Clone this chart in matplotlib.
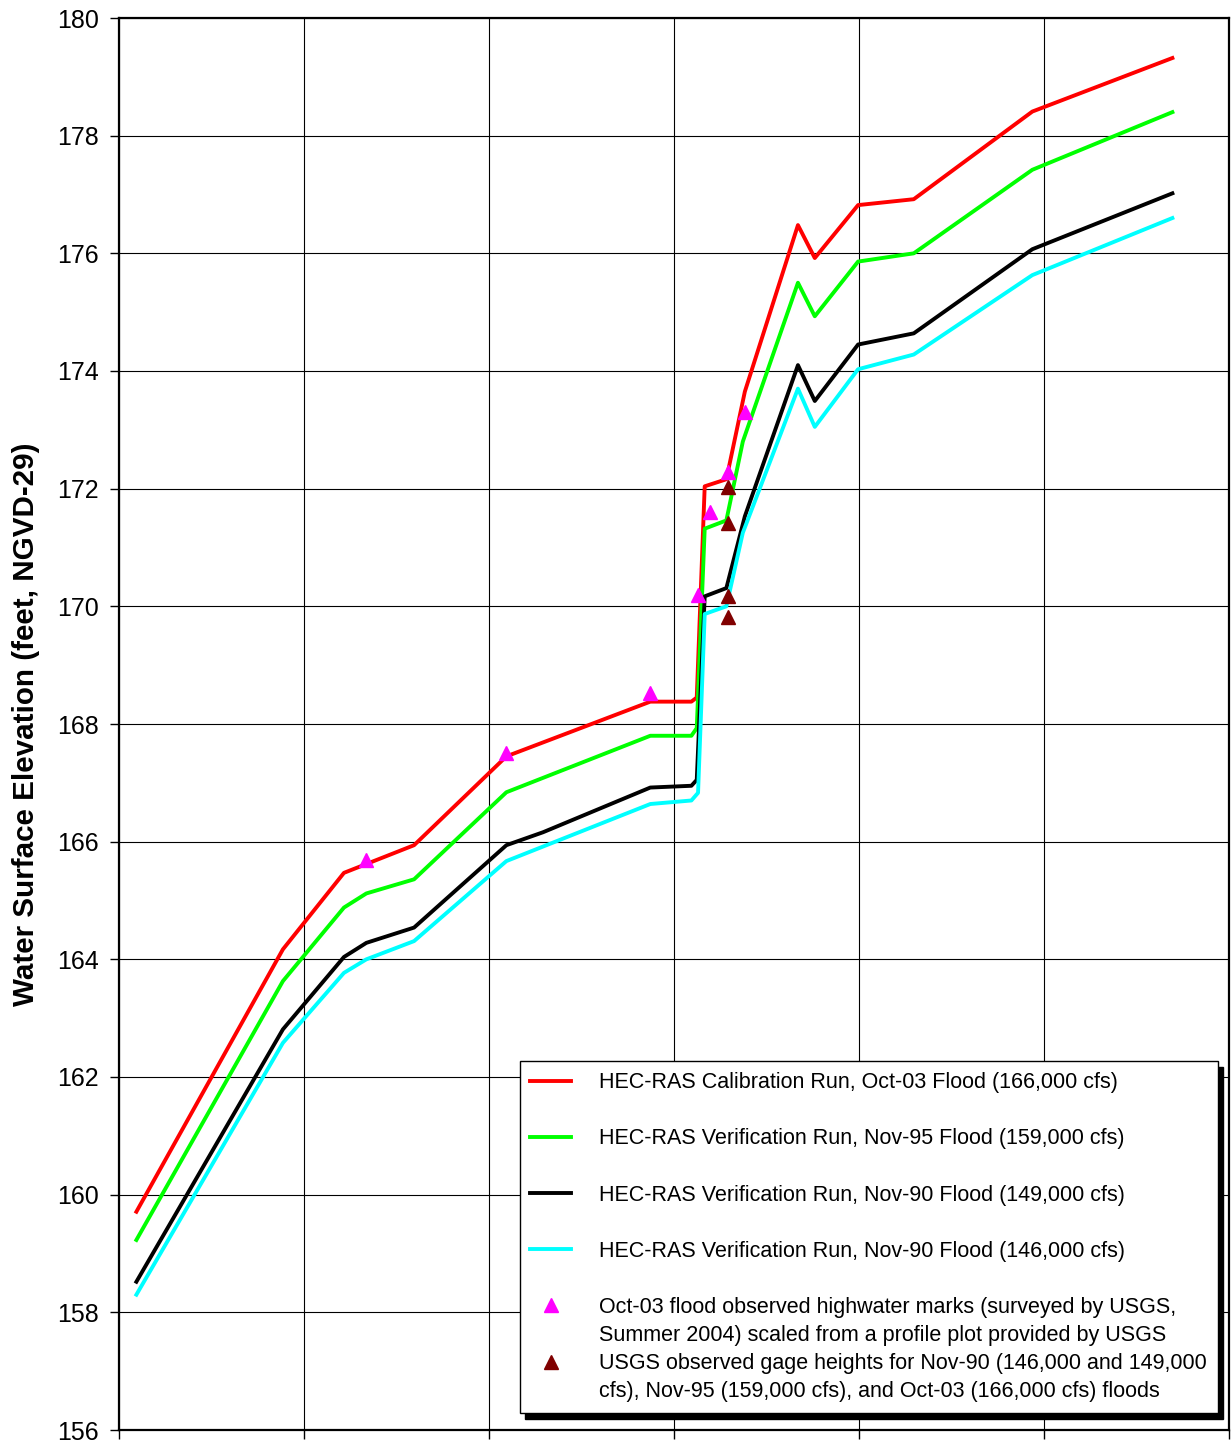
import matplotlib
matplotlib.use('Agg')
import matplotlib.pyplot as plt
from matplotlib.lines import Line2D

plt.rcParams['font.family'] = ['Liberation Sans', 'DejaVu Sans']

# distance along the reach (chart units, one per vertical gridline)
x_red = [0.094, 0.886, 1.216, 1.595, 2.094, 2.872, 3.094, 3.123, 3.166, 3.283, 3.383, 3.670, 3.761, 3.995, 4.296, 4.937, 5.694]
y_red = [159.71, 164.17, 165.47, 165.94, 167.45, 168.38, 168.38, 168.45, 172.04, 172.16, 173.65, 176.48, 175.92, 176.82, 176.92, 178.41, 179.32]

x_green = [0.094, 0.886, 1.216, 1.337, 1.595, 2.094, 2.872, 3.094, 3.123, 3.166, 3.283, 3.372, 3.670, 3.761, 3.995, 4.296, 4.937, 5.694]
y_green = [159.23, 163.63, 164.88, 165.12, 165.36, 166.84, 167.80, 167.80, 167.93, 171.32, 171.46, 172.80, 175.50, 174.93, 175.86, 176.00, 177.42, 178.40]

x_black = [0.094, 0.886, 1.216, 1.337, 1.595, 2.094, 2.292, 2.872, 3.094, 3.123, 3.166, 3.283, 3.383, 3.670, 3.761, 3.995, 4.296, 4.937, 5.694]
y_black = [158.52, 162.81, 164.04, 164.28, 164.54, 165.94, 166.16, 166.92, 166.95, 167.05, 170.17, 170.31, 171.53, 174.10, 173.49, 174.45, 174.64, 176.07, 177.02]

x_cyan = [0.094, 0.886, 1.216, 1.337, 1.595, 2.094, 2.872, 3.094, 3.130, 3.166, 3.283, 3.372, 3.670, 3.761, 3.995, 4.296, 4.937, 5.694]
y_cyan = [158.30, 162.58, 163.77, 164.00, 164.31, 165.67, 166.64, 166.70, 166.83, 169.87, 170.00, 171.25, 173.70, 173.05, 174.03, 174.28, 175.63, 176.60]

# observed points
x_hwm = [1.337, 2.094, 2.872, 3.130, 3.193, 3.292, 3.383]
y_hwm = [165.69, 167.50, 168.53, 170.20, 171.61, 172.29, 173.30]
x_gage = [3.292, 3.292, 3.292, 3.292]
y_gage = [172.03, 171.41, 170.17, 169.82]

labels = ['HEC-RAS Calibration Run, Oct-03 Flood (166,000 cfs)',
          'HEC-RAS Verification Run, Nov-95 Flood (159,000 cfs)',
          'HEC-RAS Verification Run, Nov-90 Flood (149,000 cfs)',
          'HEC-RAS Verification Run, Nov-90 Flood (146,000 cfs)']
hwm_label = ['Oct-03 flood observed highwater marks (surveyed by USGS,',
             'Summer 2004) scaled from a profile plot provided by USGS']
gage_label = ['USGS observed gage heights for Nov-90 (146,000 and 149,000',
              'cfs), Nov-95 (159,000 cfs), and Oct-03 (166,000 cfs) floods']

fig = plt.figure(figsize=(12.31, 14.41), dpi=100)
ax = fig.add_axes([119/1231, 11/1441, 1110/1231, 1412/1441])

lw = 2.8
l1, = ax.plot(x_red, y_red, color='#FF0000', lw=lw)
l2, = ax.plot(x_green, y_green, color='#00FF00', lw=lw)
l3, = ax.plot(x_black, y_black, color='black', lw=lw)
l4, = ax.plot(x_cyan, y_cyan, color='#00FFFF', lw=lw)
ax.plot(x_hwm, y_hwm, ls='none', marker='^', ms=10, color='#FF00FF')
ax.plot(x_gage, y_gage, ls='none', marker='^', ms=10, color='#800000')

ax.set_xlim(0, 6)
ax.set_ylim(156, 180)
ax.set_xticks(range(0, 7))
ax.set_xticklabels([''] * 7)
ax.set_yticks(range(156, 181, 2))
ax.grid(True, color='black', lw=0.8)
ax.tick_params(direction='out', length=6.5, width=1, labelsize=18, pad=8)
for s in ax.spines.values():
    s.set_linewidth(1.6)
ax.set_ylabel('Water Surface Elevation (feet, NGVD-29)', fontsize=21.3,
              fontweight='bold', labelpad=12)

# legend rows: spacer rows keep the run lines twice as far apart as text lines
blank = Line2D([], [], ls='none')
tri_m = Line2D([], [], ls='none', marker='^', ms=10, color='#FF00FF')
tri_b = Line2D([], [], ls='none', marker='^', ms=10, color='#800000')
handles = [l1, blank, l2, blank, l3, blank, l4, blank,
           tri_m, blank, tri_b, blank]
texts = [labels[0], ' ', labels[1], ' ', labels[2], ' ', labels[3], ' ',
         hwm_label[0], hwm_label[1], gage_label[0], gage_label[1]]
leg = ax.legend(handles, texts, loc='lower right',
                bbox_to_anchor=(0.990, 0.012), borderaxespad=0,
                fontsize=15.5, handlelength=1.9, handletextpad=1.3,
                labelspacing=0.33, borderpad=0.5, fancybox=False,
                framealpha=1, edgecolor='black',
                shadow={'ox': 4, 'oy': -4, 'facecolor': 'black',
                        'edgecolor': 'black', 'alpha': 1})
leg.get_frame().set_linewidth(1.0)

fig.savefig('out.png', dpi=100)
